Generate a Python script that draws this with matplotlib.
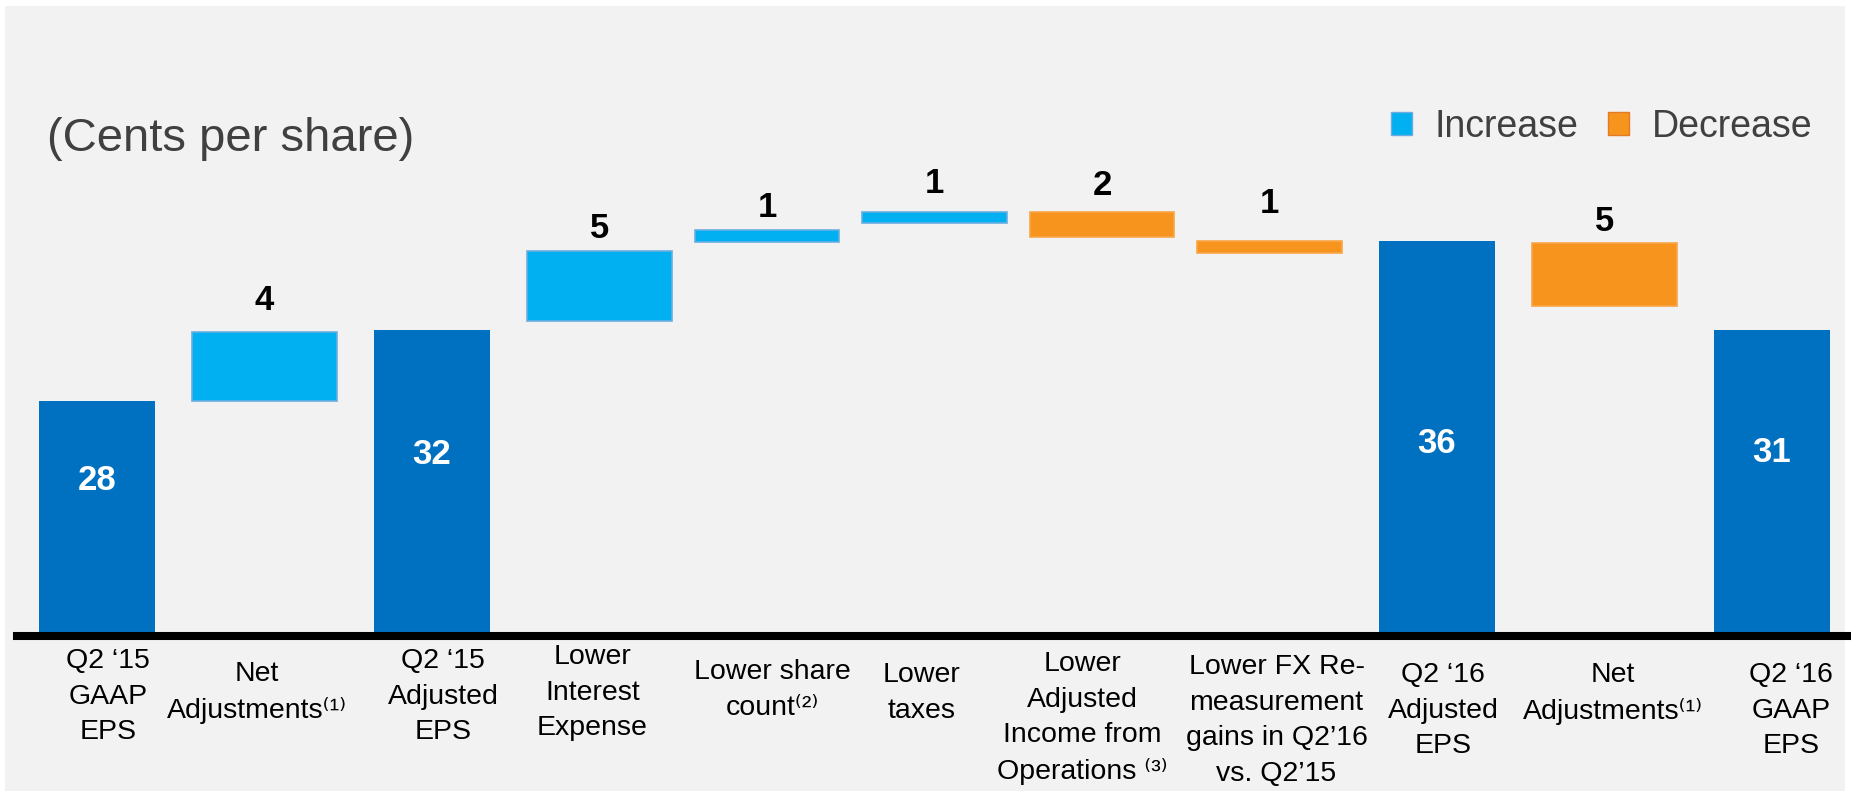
import matplotlib
matplotlib.use('Agg')
import matplotlib.pyplot as plt
from matplotlib.patches import Patch, Rectangle
from matplotlib import transforms
import numpy as np

plt.rcParams['font.family'] = ['Liberation Sans', 'DejaVu Sans']

# ---------------------------  data  ----------------------------------------------
categories = ['Q2 \u201815\nGAAP\nEPS',
              'Net\nAdjustments\u207d\u00b9\u207e',
              'Q2 \u201815\nAdjusted\nEPS',
              'Lower\nInterest\nExpense',
              'Lower share\ncount\u207d\u00b2\u207e',
              'Lower\ntaxes',
              'Lower\nAdjusted\nIncome from\nOperations \u207d\u00b3\u207e',
              'Lower FX Re-\nmeasurement\ngains in Q2\u201916\nvs. Q2\u201915',
              'Q2 \u201816\nAdjusted\nEPS',
              'Net\nAdjustments\u207d\u00b9\u207e',
              'Q2 \u201816\nGAAP\nEPS']
kind = ['total', 'increase', 'total', 'increase', 'increase', 'increase',
        'decrease', 'decrease', 'total', 'decrease', 'total']
shown = [28, 4, 32, 5, 1, 1, 2, 1, 36, 5, 31]   # printed value labels
# bar extents as drawn on the slide (not to scale with the labels)
bar_lo = [0, 21.4, 0, 28.7, 35.9, 37.65, 36.4, 34.9, 0, 30.1, 0]
bar_hi = [21.4, 27.7, 27.9, 35.1, 37.0, 38.65, 38.65, 36.0, 36.0, 35.8, 27.9]

# ---------------------------  layout  ----------------------------------------------
W, H = 1851, 793
base_px = 636          # pixel row of the axis line
px_per_unit = 10.97
label_base = [669, 682, 669, 665, 680, 683, 672, 675, 683, 683, 683]  # first line baseline (px)
label_nudge = [11, -8, 11, -7, 5, -13, -20, 7, 6, 8, 19]               # horizontal shift (px)
lift = {1: 22, 3: 13, 4: 13, 5: 19, 6: 17, 7: 28, 9: 12}     # px above bar top
inner = {0: 146, 2: 172, 8: 183, 10: 174}                       # px above axis line

colors = {'total': '#0070C0', 'increase': '#00B0F0', 'decrease': '#F7941E'}
edges = {'total': '#0070C0', 'increase': '#6AAEE0', 'decrease': '#F9A548'}

fig = plt.figure(figsize=(W / 100, H / 100), dpi=100, facecolor='white')
fig.patches.append(Rectangle((5 / W, 1 - 791 / H), 1840 / W, 785 / H, transform=fig.transFigure,
                             facecolor='#F2F2F2', edgecolor='none', zorder=-10))

ax = fig.add_axes([17 / W, 1 - base_px / H, (W - 17) / W, base_px / H])
ax.set_facecolor('none')
ax.set_xlim((17 - 97) / 167.5, (W - 97) / 167.5)
ax.set_ylim(0, base_px / px_per_unit)
for s in ax.spines.values():
    s.set_visible(False)
ax.set_xticks([])
ax.set_yticks([])

x = np.arange(len(categories))
lo = np.array(bar_lo)
hi = np.array(bar_hi)
width = [0.69 if k == 'total' else 0.865 for k in kind]
ax.bar(x, hi - lo, width, bottom=lo,
       color=[colors[k] for k in kind], edgecolor=[edges[k] for k in kind],
       linewidth=[0 if k == 'total' else 1.2 for k in kind], zorder=2)

ax.axhline(0, color='black', lw=5.8, clip_on=False, zorder=3)

# value labels
for i in range(len(x)):
    if kind[i] == 'total':
        ax.annotate(str(shown[i]), xy=(i, 0), xytext=(0, inner[i] * 0.72), textcoords='offset points',
                    ha='center', va='baseline', fontsize=25, fontweight='bold', color='white', zorder=4)
    else:
        ax.annotate(str(shown[i]), xy=(i, hi[i]), xytext=(0, lift[i] * 0.72), textcoords='offset points',
                    ha='center', va='baseline', fontsize=25, fontweight='bold', color='black', zorder=4)

# category labels under the axis line (top of text = first baseline minus ascent)
trans = transforms.blended_transform_factory(ax.transData, fig.transFigure)
for i, lab in enumerate(categories):
    t = trans + transforms.ScaledTranslation(label_nudge[i] / 100, 0, fig.dpi_scale_trans)
    ax.text(i, 1 - (label_base[i] - 21) / H, lab, transform=t, ha='center', va='top',
            multialignment='center', fontsize=20.5, linespacing=1.48, color='black')

fig.text(47 / W, 1 - 151 / H, '(Cents per share)', fontsize=34, color='#404040',
         ha='left', va='baseline')

handles = [Patch(facecolor=colors['increase'], edgecolor=edges['increase'], label='Increase'),
           Patch(facecolor=colors['decrease'], edgecolor='#E07B28', label='Decrease')]
fig.legend(handles=handles, loc='upper right', bbox_to_anchor=(1812 / W, 1 - 109 / H), ncol=2,
           frameon=False, fontsize=27, handlelength=0.56, handleheight=0.56,
           handletextpad=0.61, columnspacing=0.77, borderpad=0, borderaxespad=0,
           labelcolor='#404040')

fig.savefig('out.png', dpi=100, facecolor=fig.get_facecolor())
